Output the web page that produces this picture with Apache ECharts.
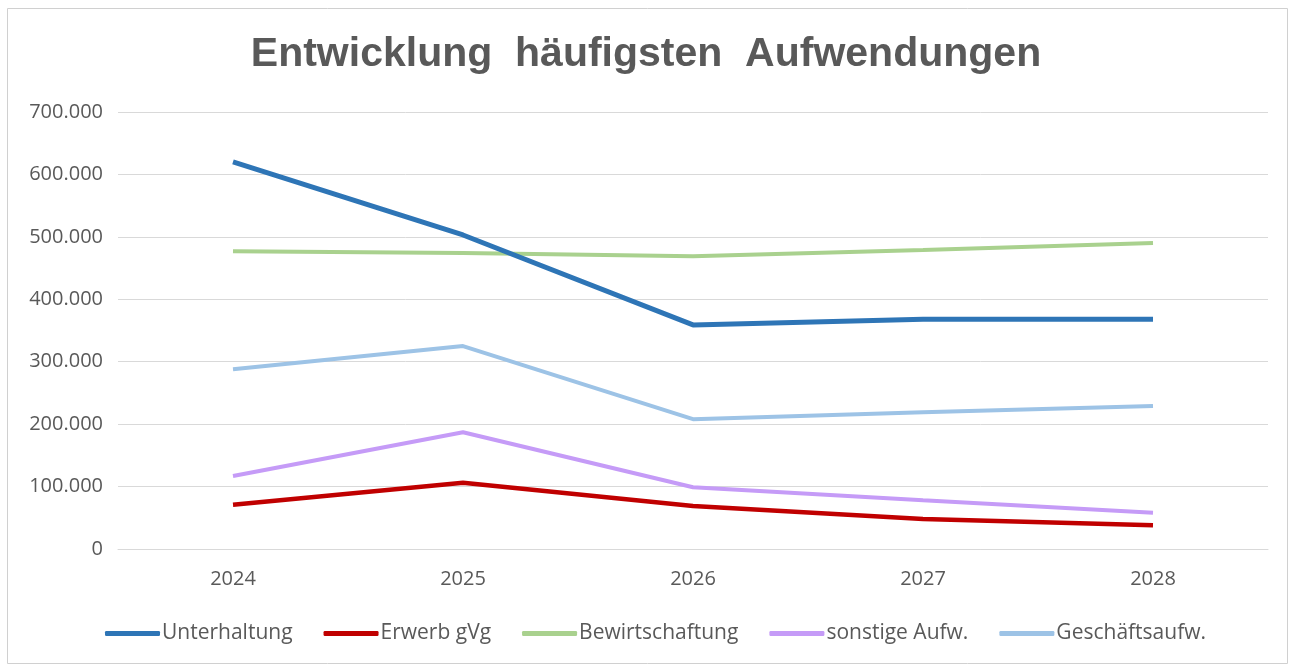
<!DOCTYPE html>
<html>
<head>
<meta charset="utf-8">
<script src="https://cdn.jsdelivr.net/npm/echarts@6/dist/echarts.min.js"></script>
<style>
  html, body { margin: 0; padding: 0; background: #fff; }
  #chart { width: 1292px; height: 666px; }
</style>
</head>
<body>
<div id="chart"></div>
<script>
// Jahre (Kategorien)
const years = ['2024', '2025', '2026', '2027', '2028']

// Werte je Aufwandsart
const unterhaltung = [620000, 503000, 359000, 368000, 368000]
const erwerbGvg = [71000, 106000, 69000, 48000, 38000]
const bewirtschaftung = [477000, 474000, 469000, 479000, 490000]
const sonstigeAufw = [117000, 187000, 99000, 78000, 58000]
const geschaeftsaufw = [288000, 325000, 208000, 219000, 229000]

const seriesNames = ['Unterhaltung', 'Erwerb gVg', 'Bewirtschaftung', 'sonstige Aufw.', 'Geschäftsaufw.']
const seriesData = [unterhaltung, erwerbGvg, bewirtschaftung, sonstigeAufw, geschaeftsaufw]
const colors = ['#2E75B6', '#C00000', '#A9D18E', '#C59BF7', '#9DC3E6']
const widths = [5, 4.5, 4, 4, 4]

const chart = echarts.init(document.getElementById('chart'))

const fmt = v => v === 0 ? '0' : String(v).replace(/\B(?=(\d{3})+(?!\d))/g, '.')

chart.setOption({
  backgroundColor: '#fff',
  color: colors,
  graphic: [{
    type: 'rect',
    shape: { x: 7.5, y: 8.5, width: 1280, height: 655 },
    style: { fill: 'none', stroke: '#d0d0d0', lineWidth: 1 },
    silent: true
  }],
  title: {
    text: 'Entwicklung  häufigsten  Aufwendungen',
    left: 'center',
    top: 29,
    textStyle: {
      fontFamily: 'Liberation Sans',
      fontSize: 41,
      fontWeight: 'bold',
      color: '#595959'
    }
  },
  legend: {
    bottom: 17,
    left: 100,
    itemWidth: 55,
    itemHeight: 5,
    itemGap: 31,
    icon: 'roundRect',
    textStyle: {
      fontFamily: 'Open Sans',
      fontSize: 21,
      color: '#595959',
      padding: [0, 0, 0, -3]
    },
    data: seriesNames
  },
  grid: {
    left: 118,
    right: 24,
    top: 112,
    bottom: 117
  },
  xAxis: {
    type: 'category',
    data: years,
    boundaryGap: true,
    axisLine: { lineStyle: { color: '#d9d9d9', width: 1 } },
    axisTick: { show: false },
    axisLabel: {
      fontFamily: 'Open Sans',
      fontSize: 20,
      color: '#595959',
      margin: 20
    }
  },
  yAxis: {
    type: 'value',
    min: 0,
    max: 700000,
    interval: 100000,
    axisLine: { show: false },
    axisTick: { show: false },
    splitLine: { lineStyle: { color: '#d9d9d9', width: 1 } },
    axisLabel: {
      fontFamily: 'Open Sans',
      fontSize: 20,
      color: '#595959',
      margin: 15,
      formatter: fmt
    }
  },
  series: seriesNames.map((name, i) => ({
    name: name,
    type: 'line',
    data: seriesData[i],
    symbol: 'none',
    lineStyle: { width: widths[i], color: colors[i] },
    itemStyle: { color: colors[i] },
    z: 10 - i
  }))
})
</script>
</body>
</html>
